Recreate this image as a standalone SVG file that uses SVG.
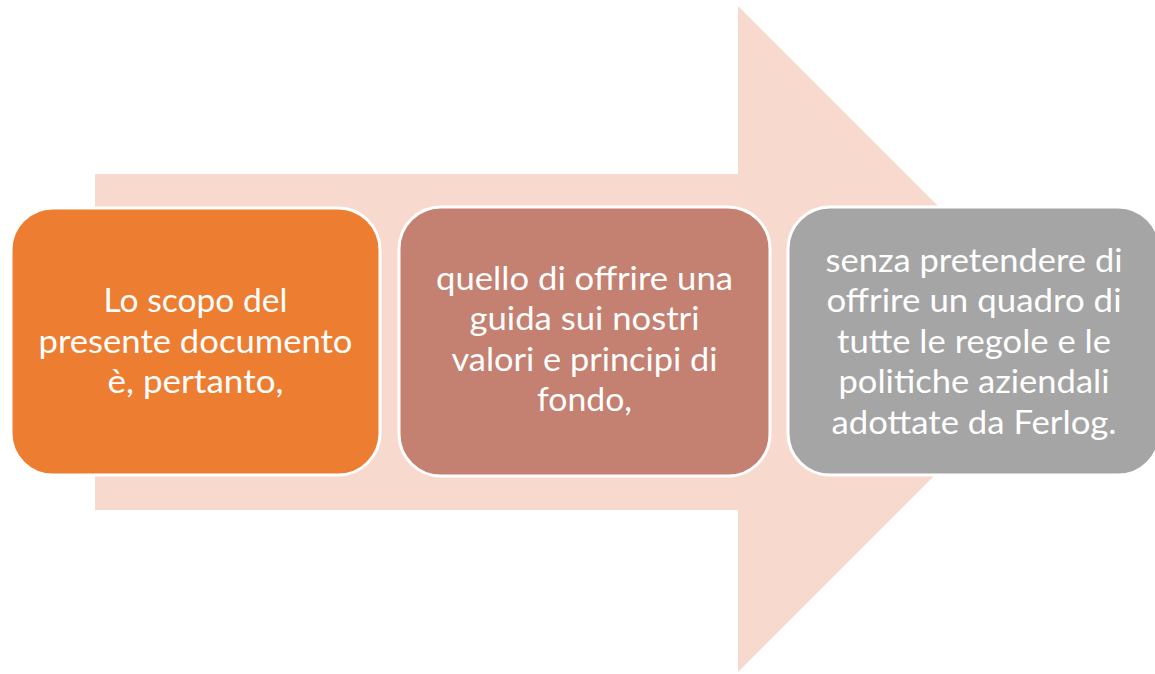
<svg xmlns="http://www.w3.org/2000/svg" width="1155" height="674" viewBox="0 0 1155 674">
<style>
.box{stroke:#FFFFFF;stroke-width:3}
.t{font-family:Lato,"Open Sans","Liberation Sans",sans-serif;font-size:32px;fill:#FFFFFF;text-anchor:middle}
</style>
<rect width="1155" height="674" fill="#FFFFFF"/>
<g id="arrow">
<polygon points="95,174 738,174 738,6 1071,339 738,672 738,510 95,510" fill="#F8D9CE"/>
</g>
<g id="connectors"></g>
<g id="node1">
<rect class="box" x="11" y="208" width="369" height="267" rx="42" fill="#ED7D31"/>
<text class="t" x="195.5" y="312" textLength="184" lengthAdjust="spacingAndGlyphs">Lo scopo del</text>
<text class="t" x="195.5" y="353" textLength="314" lengthAdjust="spacingAndGlyphs">presente documento</text>
<text class="t" x="195.5" y="393" textLength="176" lengthAdjust="spacingAndGlyphs">è, pertanto,</text>
</g>
<g id="node2">
<rect class="box" x="399" y="207" width="371" height="269" rx="42" fill="#C48070"/>
<text class="t" x="584.5" y="290" textLength="297" lengthAdjust="spacingAndGlyphs">quello di offrire una</text>
<text class="t" x="584.5" y="330" textLength="230" lengthAdjust="spacingAndGlyphs">guida sui nostri</text>
<text class="t" x="584.5" y="371" textLength="266" lengthAdjust="spacingAndGlyphs">valori e principi di</text>
<text class="t" x="584.5" y="411" textLength="95" lengthAdjust="spacingAndGlyphs">fondo,</text>
</g>
<g id="node3">
<rect class="box" x="788" y="207" width="372" height="268" rx="42" fill="#A5A5A5"/>
<text class="t" x="974" y="272" textLength="297" lengthAdjust="spacingAndGlyphs">senza pretendere di</text>
<text class="t" x="974" y="312" textLength="295" lengthAdjust="spacingAndGlyphs">offrire un quadro di</text>
<text class="t" x="974" y="353" textLength="274" lengthAdjust="spacingAndGlyphs">tutte le regole e le</text>
<text class="t" x="974" y="393" textLength="271" lengthAdjust="spacingAndGlyphs">politiche aziendali</text>
<text class="t" x="974" y="434" textLength="285" lengthAdjust="spacingAndGlyphs">adottate da Ferlog.</text>
</g>
</svg>
